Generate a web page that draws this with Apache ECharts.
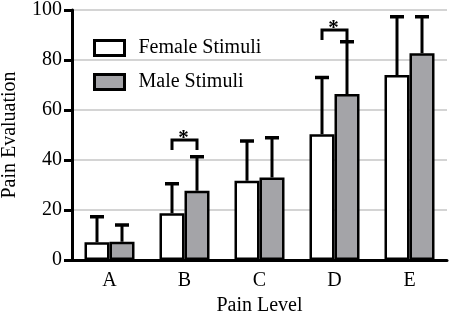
<!DOCTYPE html>
<html>
<head>
<meta charset="utf-8">
<script src="https://cdn.jsdelivr.net/npm/echarts@6/dist/echarts.min.js"></script>
<style>
html,body{margin:0;padding:0;background:#fff;}
#chart{width:454px;height:313px;}
</style>
</head>
<body>
<div id="chart"></div>
<script>
var categories=['A','B','C','D','E'];
var femaleMean=[7.1,18.7,31.7,50.3,74];
var femaleUpper=[17.3,30.5,47.6,73,97.3];
var maleMean=[7.3,27.7,33,66.4,82.7];
var maleUpper=[14,41.3,48.9,87.3,97.3];
// significance brackets: category index and bracket height
var sigIndex=[1,3];
var sigLevel=[48,92];

var font='"Liberation Serif", "Times New Roman", serif';
var grey='#a4a4a8';

var chart=echarts.init(document.getElementById('chart'));

function errorItem(offset){
  return function(params,api){
    var top=api.coord([api.value(0),api.value(2)]);
    var base=api.coord([api.value(0),api.value(1)]);
    var x=top[0]+offset;
    return {
      type:'group',
      children:[
        {type:'line',shape:{x1:x,y1:base[1],x2:x,y2:top[1]},style:{stroke:'#000',lineWidth:3}},
        {type:'line',shape:{x1:x-7,y1:top[1],x2:x+7,y2:top[1]},style:{stroke:'#000',lineWidth:3.5}}
      ]
    };
  };
}

var options={
  animation:false,
  grid:{left:72,right:7,top:10,bottom:53,containLabel:false,outerBoundsMode:'none'},
  legend:{
    orient:'vertical',
    left:93,
    top:38,
    padding:0,
    itemWidth:30,
    itemHeight:15,
    itemGap:14,
    icon:'rect',
    itemStyle:{borderWidth:3,borderColor:'#000'},
    textStyle:{fontFamily:font,fontSize:20,color:'#000',padding:[0,0,0,9]},
    data:['Female Stimuli','Male Stimuli'],
    selectedMode:false
  },
  xAxis:{
    type:'category',
    data:categories,
    name:'Pain Level',
    nameLocation:'middle',
    nameGap:35,
    nameTextStyle:{fontFamily:font,fontSize:20,color:'#000'},
    axisLine:{lineStyle:{color:'#000',width:3}},
    axisTick:{alignWithLabel:true,length:8,lineStyle:{color:'#000',width:2.5}},
    axisLabel:{fontFamily:font,fontSize:20,color:'#000',margin:11}
  },
  yAxis:{
    type:'value',
    min:0,max:100,interval:20,
    name:'Pain Evaluation',
    nameLocation:'middle',
    nameGap:52,
    nameTextStyle:{fontFamily:font,fontSize:20,color:'#000'},
    axisLine:{show:true,lineStyle:{color:'#000',width:3}},
    axisTick:{show:true,length:8,lineStyle:{color:'#000',width:3}},
    axisLabel:{fontFamily:font,fontSize:20,color:'#000',margin:10},
    splitLine:{lineStyle:{color:'#d4d4d4',width:2}}
  },
  series:[
    {
      name:'Female Stimuli',type:'bar',data:femaleMean,
      barWidth:25,barGap:'0%',
      itemStyle:{color:'#fff',borderColor:'#000',borderWidth:2.5},
      z:3
    },
    {
      name:'Male Stimuli',type:'bar',data:maleMean,
      barWidth:25,barGap:'0%',
      itemStyle:{color:grey,borderColor:'#000',borderWidth:2.5},
      z:3
    },
    {
      type:'custom',
      renderItem:errorItem(-12.5),
      data:categories.map(function(c,i){return [i,femaleMean[i],femaleUpper[i]];}),
      z:2
    },
    {
      type:'custom',
      renderItem:errorItem(12.5),
      data:categories.map(function(c,i){return [i,maleMean[i],maleUpper[i]];}),
      z:2
    },
    {
      type:'custom',
      renderItem:function(params,api){
        var p=api.coord([api.value(0),api.value(1)]);
        var x1=p[0]-12.5,x2=p[0]+12.5,y=p[1];
        return {
          type:'group',
          children:[
            {type:'polyline',shape:{points:[[x1,y+10],[x1,y],[x2,y],[x2,y+10]]},style:{stroke:'#000',lineWidth:3,fill:null}},
            {type:'text',style:{text:'*',x:p[0]-1,y:y+9,align:'center',verticalAlign:'bottom',fontSize:21,fontWeight:'bold',fontFamily:font,fill:'#000'}}
          ]
        };
      },
      data:sigIndex.map(function(c,i){return [c,sigLevel[i]];}),
      z:4
    }
  ]
};
chart.setOption(options);
</script>
</body>
</html>
